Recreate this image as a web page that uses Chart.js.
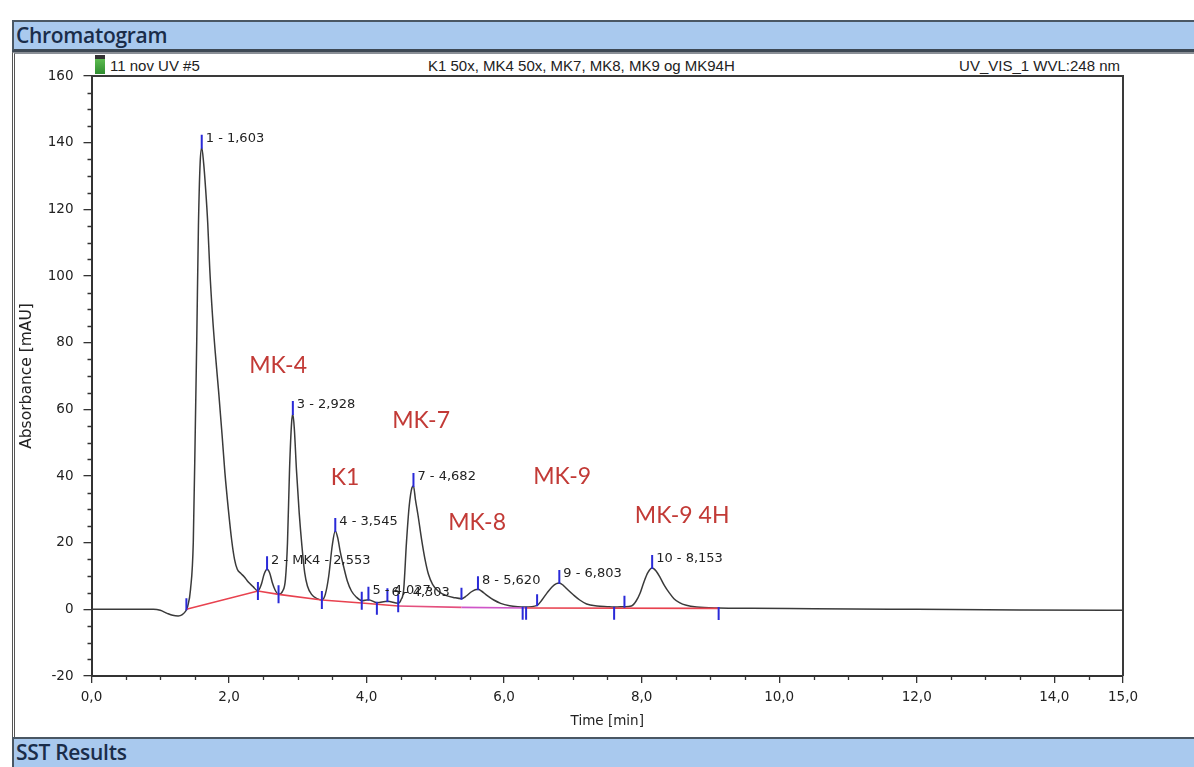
<!DOCTYPE html>
<html>
<head>
<meta charset="utf-8">
<title>Chromatogram</title>
<script src="https://cdn.jsdelivr.net/npm/chart.js@4.4.1/dist/chart.umd.min.js"></script>
<style>
  html, body { margin: 0; padding: 0; background: #fff; }
  #page { position: relative; width: 1194px; height: 767px; overflow: hidden; background: #fff; }
  .bar {
    position: absolute; left: 12px; width: 1190px; box-sizing: border-box;
    background: #a9c9ee; border-top: 2px solid #4a5764; border-bottom: 3px solid #3e4954;
    border-left: 2px solid #4a5764;
    font-family: "Open Sans", sans-serif; font-weight: 600; color: #1a2d4a;
    font-size: 21px; line-height: 27px; padding-left: 2px; letter-spacing: -0.3px;
  }
  #barTop { top: 20px; height: 32px; }
  #barSst { top: 737px; height: 34px; border-bottom: none; }
  #panel { position: absolute; left: 12px; top: 52px; width: 1190px; height: 685px;
           box-sizing: border-box; border-left: 3px double #555; border-top: 2px solid #8a8f96; }
  .ttl { position: absolute; top: 57px; font-family: "Liberation Sans", Arial, sans-serif;
         font-size: 15px; line-height: 17px; color: #222; white-space: nowrap; }
  #vial { position: absolute; left: 95px; top: 55px; width: 10px; height: 19px;
          background: linear-gradient(to bottom, #333 0, #333 4px, #5cbc50 4px, #2f8c2f 100%); }
  #wrap { position: absolute; left: 0; top: 0; width: 1194px; height: 767px; }
</style>
</head>
<body>
<div id="page">
  <div id="barTop" class="bar">Chromatogram</div>
  <div id="panel"></div>
  <div id="vial"></div>
  <div class="ttl" style="left:110px">11 nov UV #5</div>
  <div class="ttl" style="left:428px">K1 50x, MK4 50x, MK7, MK8, MK9 og MK94H</div>
  <div class="ttl" style="right:74px">UV_VIS_1 WVL:248 nm</div>
  <div id="barSst" class="bar">SST Results</div>
  <div id="wrap"><canvas id="chrom" width="1194" height="767"></canvas></div>
</div>
<script>
// Detector trace: retention time [min] and absorbance [mAU]
const traceTime = [0, 0.5, 0.9, 1.0, 1.1, 1.18, 1.26, 1.32, 1.37, 1.40, 1.44, 1.48, 1.51, 1.53, 1.555, 1.58, 1.603,
  1.63, 1.66, 1.69, 1.72, 1.76, 1.80, 1.85, 1.90, 1.94, 1.99, 2.04, 2.08, 2.12, 2.17, 2.22, 2.28, 2.35, 2.42,
  2.47, 2.51, 2.553, 2.59, 2.63, 2.67, 2.72, 2.78, 2.82, 2.85, 2.88, 2.91, 2.928, 2.95, 2.98, 3.02, 3.06, 3.10,
  3.14, 3.20, 3.28, 3.35, 3.40, 3.45, 3.50, 3.545, 3.58, 3.62, 3.67, 3.72, 3.78, 3.85, 3.93, 4.027, 4.15, 4.303,
  4.46, 4.50, 4.54, 4.58, 4.62, 4.66, 4.682, 4.71, 4.75, 4.80, 4.85, 4.90, 4.96, 5.04, 5.15, 5.28, 5.38, 5.45,
  5.52, 5.58, 5.62, 5.67, 5.75, 5.85, 5.95, 6.08, 6.20, 6.30, 6.48, 6.55, 6.62, 6.70, 6.76, 6.803, 6.86, 6.93,
  7.01, 7.10, 7.20, 7.35, 7.50, 7.60, 7.75, 7.85, 7.92, 7.98, 8.03, 8.09, 8.153, 8.21, 8.27, 8.33, 8.40, 8.47,
  8.55, 8.65, 8.80, 9.12, 9.6, 10.5, 12.0, 13.5, 15.0];
const traceAbs = [0, 0, 0, -0.3, -1.2, -1.8, -2.0, -1.6, -0.5, 1, 6, 20, 55, 80, 115, 134, 138.5,
  134, 126, 116, 102, 88, 77, 65, 52, 41, 30, 20.5, 15, 12, 10.8, 9.8, 8.2, 6.8, 5.5,
  7.5, 10.5, 12, 11, 8, 5.8, 4.5, 5.5, 9, 20, 42, 56, 58.6, 54, 42, 29, 19, 11,
  7, 4.5, 3.2, 2.8, 4.5, 10, 19, 23.5, 21.5, 17, 12.5, 8.5, 5.5, 3.7, 2.6, 2.9, 2.0, 2.4,
  1.8, 2.8, 6, 20, 31, 36.5, 37, 33, 28, 21, 15, 10.5, 7.5, 5.5, 4.2, 3.5, 3.2, 4.0,
  5.2, 5.9, 6.0, 5.5, 4.2, 2.8, 1.8, 1.1, 0.8, 0.7, 1.2, 2.8, 4.8, 6.8, 7.7, 7.9, 7.2, 5.8,
  4.3, 2.8, 1.6, 1.0, 0.8, 0.7, 0.8, 1.0, 2.5, 5, 8, 11, 12.4, 11.5, 9.5, 7.2, 5, 3.2,
  2.0, 1.2, 0.7, 0.4, 0.3, 0.2, 0.0, -0.2, -0.3];

// Integrated peaks
const peakNo = [1, 2, 3, 4, 5, 6, 7, 8, 9, 10];
const peakName = ['', 'MK4', '', '', '', '', '', '', '', ''];
const peakTime = [1.603, 2.553, 2.928, 3.545, 4.027, 4.303, 4.682, 5.620, 6.803, 8.153];
const peakHeight = [138.5, 12, 58.6, 23.5, 2.9, 2.4, 37, 6.0, 7.9, 12.4];

// Peak start/end delimiters
const delimTime = [1.38, 2.42, 2.72, 3.35, 3.93, 4.15, 4.46, 5.38, 6.27, 6.32, 6.48, 7.60, 7.75, 9.12];
const delimLevel = [0.0, 5.5, 4.5, 2.8, 2.6, 2.0, 1.8, 3.2, 0.5, 0.5, 1.2, 0.5, 0.8, 0.4];
const delimSide = ['up', 'both', 'both', 'both', 'both', 'down', 'both', 'up', 'down', 'down', 'up', 'down', 'up', 'down'];

// Integration baseline
const baseTime = [1.38, 2.42, 2.72, 3.35, 3.93, 4.46, 5.38, 6.30, 9.12];
const baseLevel = [0.0, 5.5, 4.5, 2.8, 1.9, 1.0, 0.6, 0.4, 0.3];

// Compound annotations
const compoundText = ['MK-4', 'MK-7', 'K1', 'MK-8', 'MK-9', 'MK-9 4H'];
const compoundTime = [2.713, 4.793, 3.687, 5.607, 6.844, 8.589];
const compoundLevel = [73.0, 56.5, 39.4, 25.9, 39.7, 28.0];

// Axis ticks
const xTicks = [0, 2, 4, 6, 8, 10, 12, 14, 15];
const yTicks = [-20, 0, 20, 40, 60, 80, 100, 120, 140, 160];
const xMinorStep = 0.5;
const yMinorStep = 5;

const fmtTime = v => v.toFixed(3).replace('.', ',');
const AXIS = '#333333';
const TICK_FONT = { family: 'DejaVu Sans', size: 13.5 };

const chromPlugin = {
  id: 'chromMarks',
  afterDraw(chart) {
    const { ctx, chartArea: a, scales: { x, y } } = chart;
    ctx.save();

    // plot frame
    ctx.strokeStyle = '#3a3a3a';
    ctx.lineWidth = 2;
    ctx.beginPath();
    ctx.moveTo(a.left, a.top);
    ctx.lineTo(a.right, a.top);
    ctx.lineTo(a.right, a.bottom);
    ctx.stroke();

    // minor ticks
    ctx.strokeStyle = AXIS;
    ctx.lineWidth = 1.3;
    ctx.beginPath();
    for (let v = x.min; v <= x.max + 1e-9; v += xMinorStep) {
      if (xTicks.some(t => Math.abs(t - v) < 1e-6)) continue;
      const px = Math.round(x.getPixelForValue(v)) + 0.5;
      ctx.moveTo(px, a.bottom);
      ctx.lineTo(px, a.bottom + 4);
    }
    for (let v = y.min; v <= y.max + 1e-9; v += yMinorStep) {
      if (yTicks.some(t => Math.abs(t - v) < 1e-6)) continue;
      const py = Math.round(y.getPixelForValue(v)) + 0.5;
      ctx.moveTo(a.left - 4, py);
      ctx.lineTo(a.left, py);
    }
    ctx.stroke();

    // peak delimiters
    ctx.strokeStyle = '#2a2ad8';
    ctx.lineWidth = 2;
    ctx.beginPath();
    delimTime.forEach((t, i) => {
      const px = x.getPixelForValue(t);
      const py = y.getPixelForValue(delimLevel[i]);
      const side = delimSide[i];
      const top = side === 'down' ? py - 1 : py - (side === 'up' ? 11 : 9);
      const bot = side === 'up' ? py + 1 : py + (side === 'down' ? 12 : 9);
      ctx.moveTo(px, top);
      ctx.lineTo(px, bot);
    });
    // apex markers
    peakTime.forEach((t, i) => {
      const px = x.getPixelForValue(t);
      const py = y.getPixelForValue(peakHeight[i]);
      ctx.moveTo(px, py + 1);
      ctx.lineTo(px, py - 13);
    });
    ctx.stroke();

    // peak labels
    ctx.fillStyle = '#222';
    ctx.font = '13px "DejaVu Sans"';
    ctx.textAlign = 'left';
    ctx.textBaseline = 'middle';
    peakTime.forEach((t, i) => {
      const px = x.getPixelForValue(t);
      const py = y.getPixelForValue(peakHeight[i]);
      const parts = [String(peakNo[i])];
      if (peakName[i]) parts.push(peakName[i]);
      parts.push(fmtTime(t));
      ctx.fillText(parts.join(' - '), px + 4, py - 9);
    });

    // compound annotations
    ctx.fillStyle = '#c23a36';
    ctx.font = '23px Lato';
    ctx.textAlign = 'center';
    compoundText.forEach((s, i) => {
      ctx.fillText(s, x.getPixelForValue(compoundTime[i]), y.getPixelForValue(compoundLevel[i]));
    });
    ctx.restore();
  }
};

const baseColors = ['#e8424f', '#e8424f', '#e8424f', '#e8424f', '#e8424f', '#e4507e', '#cf55c8', '#e8424f'];

new Chart(document.getElementById('chrom'), {
  type: 'line',
  data: {
    datasets: [
      {
        label: 'Baseline',
        data: baseTime.map((t, i) => ({ x: t, y: baseLevel[i] })),
        borderColor: '#e8424f',
        borderWidth: 1.6,
        pointRadius: 0,
        segment: { borderColor: c => baseColors[c.p0DataIndex] }
      },
      {
        label: 'UV_VIS_1',
        data: traceTime.map((t, i) => ({ x: t, y: traceAbs[i] })),
        borderColor: '#3a3a3a',
        borderWidth: 1.5,
        pointRadius: 0,
        cubicInterpolationMode: 'monotone'
      }
    ]
  },
  options: {
    responsive: false,
    animation: false,
    devicePixelRatio: 1,
    events: [],
    layout: { padding: { left: 17.5, top: 76, right: 71, bottom: 31 } },
    plugins: { legend: { display: false }, tooltip: { enabled: false } },
    scales: {
      x: {
        type: 'linear', min: 0, max: 15,
        afterBuildTicks: s => { s.ticks = xTicks.map(v => ({ value: v })); },
        afterFit: s => { s.height = 60; },
        ticks: { callback: v => v.toFixed(1).replace('.', ','), autoSkip: false, maxRotation: 0,
                 font: TICK_FONT, color: '#222', padding: 6 },
        grid: { drawOnChartArea: false, drawTicks: true, tickLength: 7, color: AXIS, lineWidth: 1.3 },
        border: { display: true, color: AXIS, width: 2 },
        title: { display: true, text: 'Time [min]', font: TICK_FONT, color: '#222',
                 padding: { top: 0, bottom: 6 } }
      },
      y: {
        type: 'linear', min: -20, max: 160,
        afterBuildTicks: s => { s.ticks = yTicks.map(v => ({ value: v })); },
        afterFit: s => { s.width = 74; },
        ticks: { callback: v => String(v), autoSkip: false, font: TICK_FONT, color: '#222', padding: 10 },
        grid: { drawOnChartArea: false, drawTicks: true, tickLength: 8, color: AXIS, lineWidth: 1.3 },
        border: { display: true, color: AXIS, width: 2 },
        title: { display: true, text: 'Absorbance [mAU]', font: { family: 'DejaVu Sans', size: 15.5 },
                 color: '#222', padding: { top: 0, bottom: 0 } }
      }
    }
  },
  plugins: [chromPlugin]
});
</script>
</body>
</html>
